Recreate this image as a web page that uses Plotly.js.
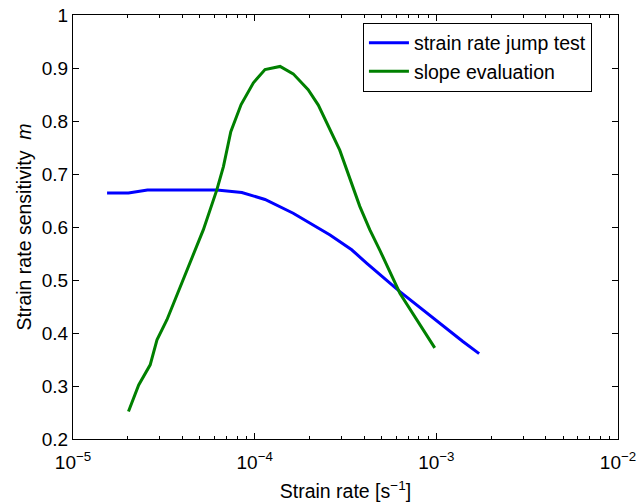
<!DOCTYPE html>
<html>
<head>
<meta charset="utf-8">
<script src="https://cdn.plot.ly/plotly-3.0.1.min.js"></script>
<style>html,body{margin:0;padding:0;background:#fff}#chart{width:636px;height:504px}</style>
</head>
<body>
<div id="chart"></div>
<script>
// Strain rate jump test
const jumpRate = [1.54e-5, 2.02e-5, 2.57e-5, 6.2e-5, 8.5e-5, 1.14e-4, 1.63e-4, 2.29e-4, 2.60e-4, 3.42e-4, 4.13e-4, 6.3e-4, 9.6e-4, 1.40e-3, 1.72e-3];
const jumpM    = [0.664, 0.664, 0.670, 0.670, 0.665, 0.652, 0.626, 0.595, 0.585, 0.557, 0.532, 0.478, 0.428, 0.384, 0.361];
// Slope evaluation
const slopeRate = [2.02e-5, 2.30e-5, 2.66e-5, 2.90e-5, 3.29e-5, 3.81e-5, 4.42e-5, 5.22e-5, 6.19e-5, 6.73e-5, 7.39e-5, 8.42e-5, 9.84e-5, 1.14e-4, 1.38e-4, 1.63e-4, 1.97e-4, 2.24e-4, 2.94e-4, 3.79e-4, 4.30e-4, 4.89e-4, 6.3e-4, 9.8e-4];
const slopeM    = [0.252, 0.302, 0.340, 0.387, 0.425, 0.478, 0.535, 0.595, 0.670, 0.714, 0.780, 0.831, 0.872, 0.897, 0.903, 0.889, 0.859, 0.830, 0.745, 0.639, 0.595, 0.556, 0.475, 0.372];
const xTickVals = [1e-5, 1e-4, 1e-3, 1e-2];
const xTickText = ['10<sup>−5</sup>', '10<sup>−4</sup>', '10<sup>−3</sup>', '10<sup>−2</sup>'];
const seriesNames = ['strain rate jump test', 'slope evaluation'];

const minorVals = [];
for (let e = -5; e < -2; e++) for (let k = 2; k <= 9; k++) minorVals.push(k * Math.pow(10, e));

const fam = 'Liberation Sans, Arial, sans-serif';
const tickFont = {family: fam, size: 19, color: '#000'};
const titleFont = {family: fam, size: 19.5, color: '#000'};
const traces = [
  {x: jumpRate, y: jumpM, name: seriesNames[0], mode: 'lines', line: {color: '#0000ff', width: 3}},
  {x: slopeRate, y: slopeM, name: seriesNames[1], mode: 'lines', line: {color: '#008000', width: 3}}
];
const layout = {
  width: 636, height: 504,
  margin: {l: 73, r: 18, t: 15, b: 65},
  paper_bgcolor: '#fff', plot_bgcolor: '#fff',
  font: tickFont,
  showlegend: true,
  legend: {x: 0.532, y: 0.982, xanchor: 'left', yanchor: 'top', bgcolor: '#fff', bordercolor: '#000', borderwidth: 1, font: titleFont, tracegroupgap: 0, itemwidth: 40},
  xaxis: {
    type: 'log', range: [-5, -2], automargin: false,
    tickvals: xTickVals, ticktext: xTickText, ticklabeloverflow: 'allow',
    ticks: 'inside', ticklen: 6, tickcolor: '#000', mirror: 'ticks', ticklabelstandoff: 6,
    showline: true, linecolor: '#000', linewidth: 1, showgrid: false, zeroline: false,
    minor: {tickvals: minorVals, ticks: 'inside', ticklen: 3, tickcolor: '#000', showgrid: false},
    tickfont: tickFont,
    title: {text: 'Strain rate [s<sup>−1</sup>]', font: titleFont, standoff: 12}
  },
  yaxis: {
    range: [0.2, 1], dtick: 0.1, tick0: 0.2, automargin: false, ticklabeloverflow: 'allow',
    ticks: 'inside', ticklen: 6, tickcolor: '#000', mirror: 'ticks',
    showline: true, linecolor: '#000', linewidth: 1, showgrid: false, zeroline: false,
    tickfont: tickFont,
    title: {text: 'Strain rate sensitivity  <i>m</i>', font: titleFont, standoff: 4}
  }
};
Plotly.newPlot('chart', traces, layout, {displayModeBar: false, staticPlot: true});
</script>
</body>
</html>
